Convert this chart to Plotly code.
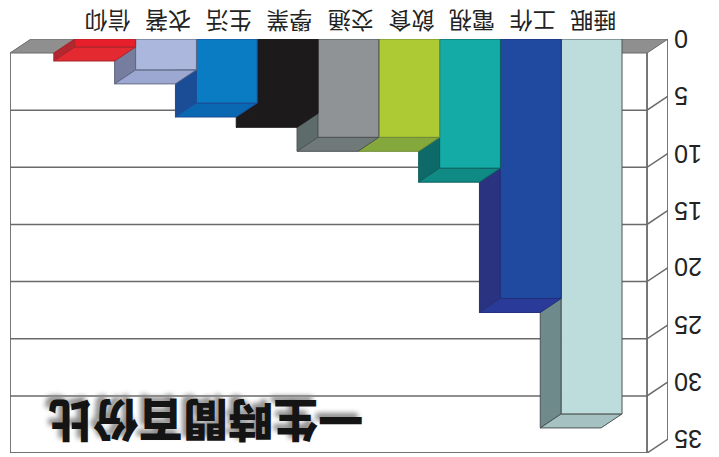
import plotly.graph_objects as go

categories = ["睡眠", "工作", "電視", "飲食", "交通", "學業", "生活", "衣著", "信仰"]
hours = [32.8, 22.7, 11.3, 8.6, 8.6, 6.5, 5.6, 2.7, 0.7]
tick_values = [0, 5, 10, 15, 20, 25, 30, 35]
title_text = "一生時間百份比"

face_colors = ["#bddcdc", "#1f4a9f", "#14aaa6", "#adca35", "#8f9395", "#1c1a1b", "#0a7cc4", "#abb7dd", "#e71f2a"]
side_colors = ["#6e8a8b", "#29337f", "#0e6a68", "#7f9e3a", "#5e6b6b", "#1c1a1b", "#1b4c96", "#767d9f", "#b3272e"]
base_colors = ["#a5c1c1", "#2a3a99", "#0f8a85", "#84a83c", "#6f7a78", "#1c1a1b", "#0a67b2", "#9ca8d1", "#e42a30"]
edge_colors = ["#4d5355", "#23307a", "#0e5f5c", "#6f8a35", "#4d5355", "#1c1a1b", "#1b4c96", "#5d6480", "#a5262c"]

DX, DY = 0.345, 1.225          # oblique depth of the 3-D box, in axis units
WALL_LEFT, WALL_RIGHT = 10.066, -0.411
OUTER = WALL_RIGHT - DX
LINE = "#6a6a6a"

fig = go.Figure()


def poly(xs, ys, fill, line, width=1):
    fig.add_trace(go.Scatter(x=xs, y=ys, mode="lines", fill="toself", fillcolor=fill,
                             line=dict(color=line, width=width), hoverinfo="skip",
                             showlegend=False, cliponaxis=False))


def path(xs, ys, width=1.5):
    fig.add_trace(go.Scatter(x=xs, y=ys, mode="lines", line=dict(color=LINE, width=width),
                             hoverinfo="skip", showlegend=False, cliponaxis=False))


# floor band and back wall
poly([WALL_LEFT, WALL_LEFT - DX, OUTER, WALL_RIGHT, WALL_LEFT], [DY, 0, 0, DY, DY], "#8f8f8f", LINE)
top = tick_values[-1] + DY
path([WALL_LEFT, WALL_LEFT, WALL_RIGHT, WALL_RIGHT], [DY, top, top, DY], 1.8)
path([OUTER, OUTER], [0, tick_values[-1]], 1.8)
for v in tick_values[1:]:
    path([WALL_LEFT, WALL_RIGHT, OUTER], [v + DY, v + DY, v])

# bars, nearest first so that neighbours overlap as in the picture
for i, v in enumerate(hours):
    x0, x1 = i, i + 1
    poly([x1, x1, x1 + DX, x1 + DX, x1], [0, v, v + DY, DY, 0], side_colors[i], edge_colors[i])
    poly([x0, x1, x1 + DX, x0 + DX, x0], [v, v, v + DY, v + DY, v], base_colors[i], edge_colors[i])
    poly([x0, x1, x1, x0, x0], [0, 0, v, v, 0], face_colors[i], edge_colors[i])

# upside-down labels, placed as real text from the label lists
for i, name in enumerate(categories):
    fig.add_annotation(x=i + 0.5, xshift=2, y=0, yref="y", yshift=17, text=name, showarrow=False,
                       textangle=180, xanchor="center", yanchor="middle",
                       font=dict(family="Noto Sans CJK TC", size=23, color="#222222"))
for t in tick_values:
    fig.add_annotation(x=OUTER, xshift=4, y=t, text=str(t), showarrow=False, textangle=180,
                       xanchor="left", yanchor="middle",
                       font=dict(family="Liberation Sans", size=25, color="#222222"))

fig.add_annotation(x=6.84, y=33.6, text=title_text, showarrow=False, textangle=180,
                   font=dict(family="Noto Sans CJK TC", size=45, weight=900, color="#141414",
                             shadow="4px 4px 5px #8a8a8a"))

fig.update_layout(
    width=719, height=457, autosize=False,
    margin=dict(l=10, r=51, t=39, b=4),
    paper_bgcolor="white", plot_bgcolor="white",
    xaxis=dict(range=[WALL_LEFT, OUTER], showgrid=False, zeroline=False, showline=False,
               showticklabels=False, ticks=""),
    yaxis=dict(range=[36.22, 0], showgrid=False, zeroline=False, showline=False,
               showticklabels=False, ticks=""),
)

fig.write_html("out.html", config={"displayModeBar": False},
               post_script="document.body.style.margin='0';")
